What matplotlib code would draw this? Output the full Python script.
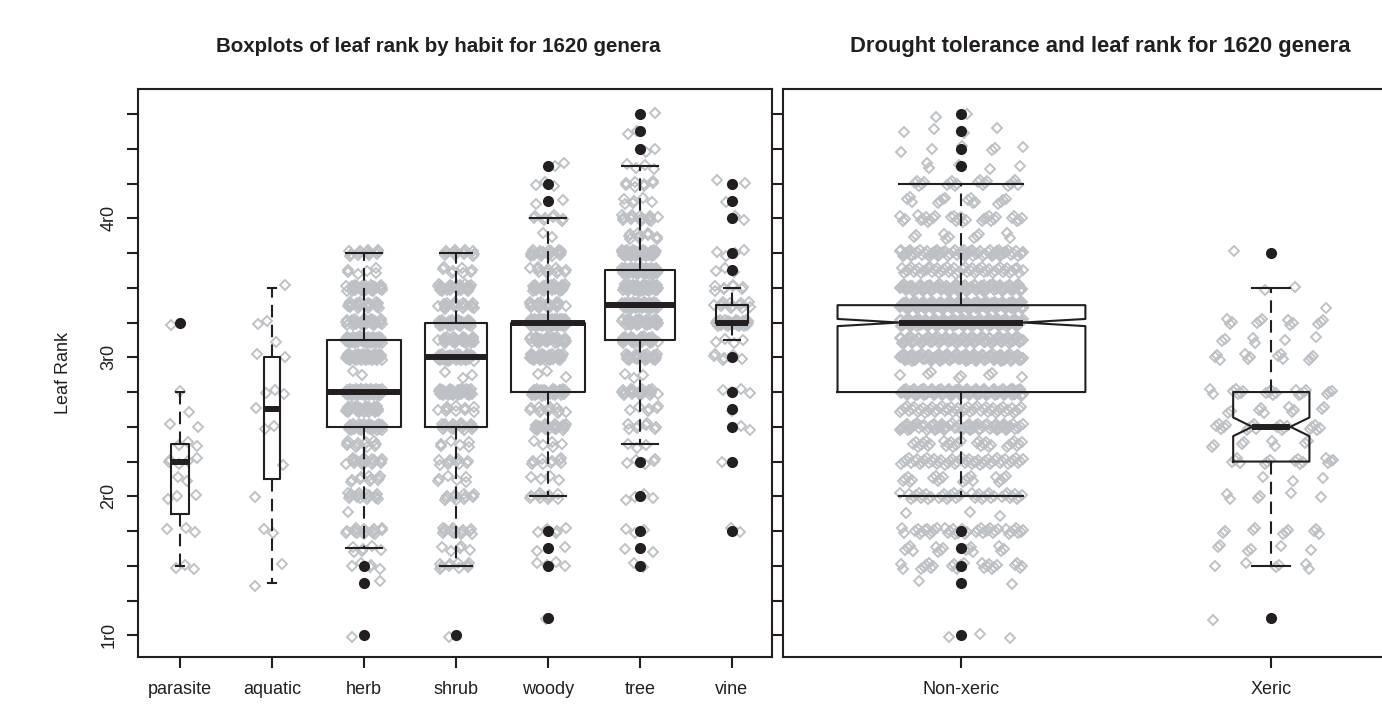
import numpy as np
import matplotlib.pyplot as plt

plt.rcParams['font.family'] = ['Liberation Sans', 'DejaVu Sans']

# leaf rank levels (one count per level for every group)
leaf_levels = [1.0, 1.125, 1.25, 1.375, 1.5, 1.625, 1.75, 1.875, 2.0, 2.125,
               2.25, 2.375, 2.5, 2.625, 2.75, 2.875, 3.0, 3.125, 3.25, 3.375,
               3.5, 3.625, 3.75, 3.875, 4.0, 4.125, 4.25, 4.375, 4.5, 4.625, 4.75]

habits = ['parasite', 'aquatic', 'herb', 'shrub', 'woody', 'tree', 'vine']
parasite_counts = [0, 0, 0, 0, 3, 0, 3, 0, 3, 2, 5, 3, 2, 1, 1, 0, 0, 0, 1, 0, 0, 0, 0, 0, 0, 0, 0, 0, 0, 0, 0]
aquatic_counts = [0, 0, 0, 1, 1, 0, 2, 0, 1, 0, 1, 0, 2, 1, 3, 0, 2, 1, 2, 0, 1, 0, 0, 0, 0, 0, 0, 0, 0, 0, 0]
herb_counts = [1, 0, 0, 1, 5, 6, 16, 1, 16, 10, 18, 12, 35, 30, 60, 2, 45, 50, 30, 20, 30, 6, 13, 0, 0, 0, 0, 0, 0, 0, 0]
shrub_counts = [1, 0, 0, 0, 10, 5, 14, 0, 12, 6, 10, 6, 22, 10, 35, 3, 40, 25, 30, 18, 30, 8, 13, 0, 0, 0, 0, 0, 0, 0, 0]
woody_counts = [0, 1, 0, 0, 4, 2, 5, 0, 10, 4, 10, 5, 22, 12, 35, 3, 35, 30, 135, 20, 30, 12, 20, 2, 8, 2, 3, 2, 0, 0, 0]
tree_counts = [0, 0, 0, 0, 2, 2, 3, 0, 4, 0, 5, 3, 8, 6, 20, 3, 25, 30, 35, 50, 45, 50, 40, 10, 15, 6, 8, 4, 2, 2, 1]
vine_counts = [0, 0, 0, 0, 0, 0, 2, 0, 0, 0, 1, 0, 2, 1, 4, 0, 6, 4, 30, 12, 8, 3, 4, 0, 2, 1, 2, 0, 0, 0, 0]

habit_med = [2.25, 2.625, 2.75, 3.0, 3.25, 3.375, 3.25]
habit_q1 = [1.875, 2.125, 2.5, 2.5, 2.75, 3.125, 3.25]
habit_q3 = [2.375, 3.0, 3.125, 3.25, 3.25, 3.625, 3.375]
habit_lo = [1.5, 1.375, 1.625, 1.5, 2.0, 2.375, 3.125]
habit_hi = [2.75, 3.5, 3.75, 3.75, 4.0, 4.375, 3.5]
habit_out = [[3.25], [], [1.5, 1.375, 1.0], [1.0],
             [4.375, 4.25, 4.125, 1.75, 1.625, 1.5, 1.125],
             [4.75, 4.625, 4.5, 2.25, 2.0, 1.75, 1.625, 1.5],
             [4.25, 4.125, 4.0, 3.75, 3.625, 3.0, 2.75, 2.625, 2.5, 2.25, 1.75]]

drought = ['Non-xeric', 'Xeric']
nonxeric_counts = [3, 0, 0, 2, 25, 15, 40, 3, 40, 20, 50, 30, 80, 50, 120, 8, 130, 100, 200, 215, 120, 50, 75, 10, 30, 15, 20, 5, 6, 4, 2]
xeric_counts = [0, 1, 0, 0, 6, 6, 10, 0, 6, 3, 15, 8, 20, 10, 20, 0, 12, 6, 12, 1, 2, 0, 1, 0, 0, 0, 0, 0, 0, 0, 0]

drought_med = [3.25, 2.5]
drought_q1 = [2.75, 2.25]
drought_q3 = [3.375, 2.75]
drought_lo = [2.0, 1.5]
drought_hi = [4.25, 3.5]
drought_out = [[4.75, 4.625, 4.5, 4.375, 1.75, 1.625, 1.5, 1.375, 1.0], [3.75, 1.125]]

ytick_values = [1.0, 1.25, 1.5, 1.75, 2.0, 2.25, 2.5, 2.75, 3.0, 3.25, 3.5, 3.75, 4.0, 4.25, 4.5, 4.75]
ytick_labels = ['1r0', '', '', '', '2r0', '', '', '', '3r0', '', '', '', '4r0', '', '', '']

ink = '#231F20'
pt_grey = '#BDC1C5'


def jitter_points(counts, pos, shift):
    # spread each genus sideways (and a touch vertically) like R's jitter()
    ys = np.repeat(leaf_levels, counts)
    k = np.arange(len(ys)) + 1
    g = 1.32471795724
    u = (shift + k / g) % 1.0
    v = (0.5 + shift * 0.3 + k / g ** 2) % 1.0
    return pos + 0.2 * (2 * u - 1), ys + 0.025 * (2 * v - 1)


def box_stats(med, q1, q3, lo, hi, out, counts, notch=False):
    stats = []
    for i in range(len(med)):
        n = sum(counts[i])
        d = dict(med=med[i], q1=q1[i], q3=q3[i], whislo=lo[i], whishi=hi[i], fliers=out[i])
        if notch:
            half = 1.58 * (q3[i] - q1[i]) / np.sqrt(n)
            d['cilo'] = med[i] - half
            d['cihi'] = med[i] + half
        stats.append(d)
    return stats


def draw_group(ax, groups, counts, stats, notch):
    pos = np.arange(1, len(groups) + 1)
    sizes = np.sqrt([sum(c) for c in counts])
    widths = 0.8 * sizes / sizes.max()
    for i, c in enumerate(counts):
        jx, jy = jitter_points(c, pos[i], 0.137 * (i + 1))
        ax.plot(jx, jy, linestyle='none', marker='D', ms=4.7, mfc='none',
                mec=pt_grey, mew=1.35, zorder=1)
    ax.bxp(stats, positions=pos, widths=widths, shownotches=notch,
           boxprops=dict(color=ink, lw=1.5),
           whiskerprops=dict(color=ink, lw=1.5, linestyle=(0, (6, 3.5))),
           capprops=dict(color=ink, lw=1.5),
           medianprops=dict(color=ink, lw=4.3, solid_capstyle='butt'),
           flierprops=dict(marker='o', mfc=ink, mec=ink, ms=7),
           zorder=3)
    ax.set_xticks(pos)
    ax.set_xticklabels(groups)


fig = plt.figure(figsize=(13.82, 7.11), dpi=100)
W, H = 1382, 711

ax1 = fig.add_axes([138 / W, 1 - 657 / H, 634 / W, 568 / H])
ax2 = fig.add_axes([783 / W, 1 - 657 / H, 668 / W, 568 / H])

habit_stats = box_stats(habit_med, habit_q1, habit_q3, habit_lo, habit_hi, habit_out,
                        [parasite_counts, aquatic_counts, herb_counts, shrub_counts,
                         woody_counts, tree_counts, vine_counts])
draw_group(ax1, habits, [parasite_counts, aquatic_counts, herb_counts, shrub_counts,
                         woody_counts, tree_counts, vine_counts], habit_stats, False)

drought_stats = box_stats(drought_med, drought_q1, drought_q3, drought_lo, drought_hi,
                          drought_out, [nonxeric_counts, xeric_counts], notch=True)
draw_group(ax2, drought, [nonxeric_counts, xeric_counts], drought_stats, True)

ax1.set_xlim(0.543, 7.435)
ax2.set_xlim(0.424, 2.58)
for ax in (ax1, ax2):
    ax.set_ylim(0.844, 4.93)
    ax.set_yticks(ytick_values)
    for s in ax.spines.values():
        s.set_linewidth(1.5)
        s.set_color(ink)
    ax.tick_params(direction='out', length=8, width=1.5, color=ink,
                   labelcolor=ink, labelsize=13)
    ax.tick_params(axis='x', pad=9)

ax1.set_yticklabels(ytick_labels, rotation=90, va='center')
ax1.tick_params(axis='y', pad=7)
ax2.set_yticklabels([])
ax1.set_ylabel('Leaf Rank', fontsize=13, color=ink)
ax1.yaxis.set_label_coords(-0.104, 0.5)

fig.text(438 / W, 1 - 52 / H, 'Boxplots of leaf rank by habit for 1620 genera',
         ha='center', va='baseline', fontsize=14.8, fontweight='bold', color=ink)
fig.text(1100.5 / W, 1 - 52 / H, 'Drought tolerance and leaf rank for 1620 genera',
         ha='center', va='baseline', fontsize=15.8, fontweight='bold', color=ink)

fig.savefig('out.png', dpi=100)
